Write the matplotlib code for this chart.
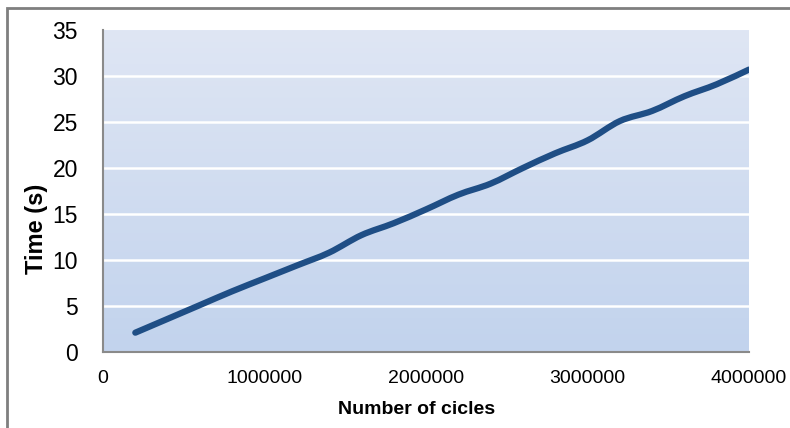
import numpy as np
import matplotlib.pyplot as plt
from matplotlib.path import Path
from matplotlib.patches import PathPatch, Rectangle
from matplotlib.colors import LinearSegmentedColormap

plt.rcParams['font.family'] = ['Liberation Sans', 'DejaVu Sans']

# data
cycles = [200000, 400000, 600000, 800000, 1000000, 1200000, 1400000, 1600000, 1800000, 2000000,
          2200000, 2400000, 2600000, 2800000, 3000000, 3200000, 3400000, 3600000, 3800000, 4000000]
times = [2.1, 3.6, 5.1, 6.6, 8.0, 9.4, 10.8, 12.7, 14.0, 15.5,
         17.1, 18.3, 20.0, 21.6, 23.0, 25.1, 26.2, 27.8, 29.1, 30.7]
x_ticks = [0, 1000000, 2000000, 3000000, 4000000]
y_ticks = [0, 5, 10, 15, 20, 25, 30, 35]


def smooth_path(xs, ys, k=1 / 6):
    # Excel-like smoothed line: Catmull-Rom turned into cubic Bezier segments
    pts = np.column_stack([xs, ys]).astype(float)
    verts = [pts[0]]
    codes = [Path.MOVETO]
    n = len(pts)
    for i in range(n - 1):
        p0 = pts[max(i - 1, 0)]
        p1 = pts[i]
        p2 = pts[i + 1]
        p3 = pts[min(i + 2, n - 1)]
        verts += [p1 + (p2 - p0) * k, p2 - (p3 - p1) * k, p2]
        codes += [Path.CURVE4] * 3
    return Path(verts, codes)


fig = plt.figure(figsize=(7.9, 4.28), dpi=100)
ax = fig.add_axes([103 / 790, 1 - 352 / 428, 646 / 790, 322 / 428])

# gradient plot area
grad = LinearSegmentedColormap.from_list("bg", ["#c2d3ed", "#dfe6f4"])
ax.imshow(np.linspace(0, 1, 256).reshape(-1, 1), cmap=grad, origin="lower",
          extent=[0, 1, 0, 1], transform=ax.transAxes, aspect="auto", zorder=0)

ax.set_xlim(0, 4000000)
ax.set_ylim(0, 35)
ax.set_xticks(x_ticks)
ax.set_yticks(y_ticks)
ax.set_xticklabels([str(v) for v in x_ticks], fontsize=14)
ax.set_yticklabels([str(v) for v in y_ticks], fontsize=16.5)
ax.tick_params(length=0)
ax.tick_params(axis="y", pad=18)
ax.tick_params(axis="x", pad=13)
for v in y_ticks[1:-1]:
    ax.axhline(v, color="white", lw=1.8, zorder=1)

ax.add_patch(PathPatch(smooth_path(cycles, times), facecolor="none", edgecolor="#1f4e85",
                       lw=4.5, capstyle="round", joinstyle="round", zorder=3))

for s in ["top", "right"]:
    ax.spines[s].set_visible(False)
ax.spines["left"].set_color("#8a8a8a")
ax.spines["bottom"].set_color("#8a8a8a")
ax.spines["left"].set_linewidth(1.5)
ax.spines["bottom"].set_linewidth(1.5)

ax.set_xlabel("Number of cicles", fontsize=14, fontweight="bold")
ax.xaxis.set_label_coords((417 - 103) / 646, -(401 - 352) / 322)
ax.set_ylabel("Time (s)", fontsize=17, fontweight="bold")
ax.yaxis.set_label_coords(-(103 - 48) / 646, (352 - 229) / 322)

# outer chart border (cropped at right and bottom)
fig.patches.append(Rectangle((7 / 790, -0.1), 1.2, 1 - 7.5 / 428 + 0.1, transform=fig.transFigure,
                             fill=False, edgecolor="#7f7f7f", lw=2))

fig.savefig("out.png", dpi=100)
